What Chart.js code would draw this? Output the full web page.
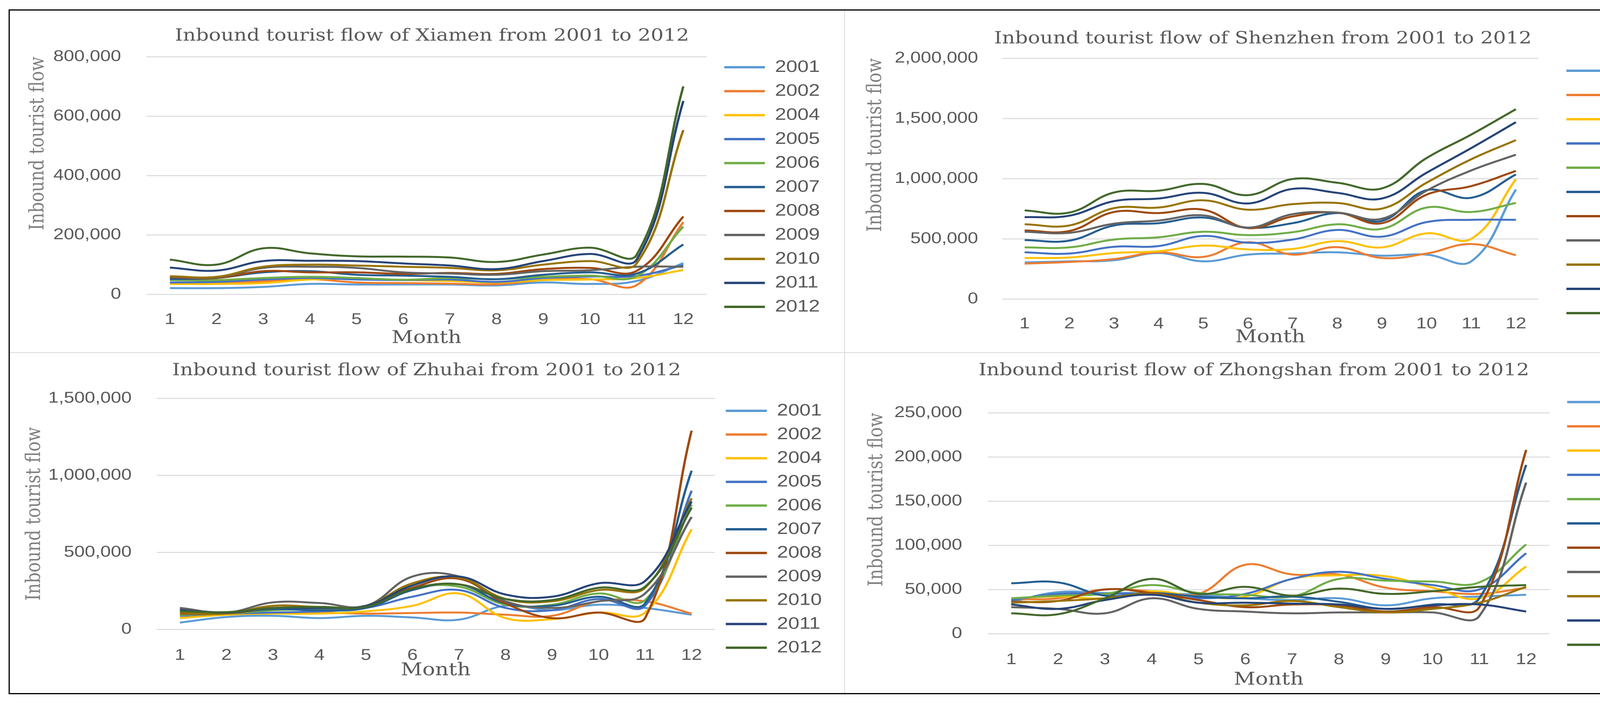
<!DOCTYPE html>
<html>
<head>
<meta charset="utf-8">
<script src="https://cdn.jsdelivr.net/npm/chart.js@4.4.1/dist/chart.umd.min.js"></script>
<style>
  html, body { margin: 0; padding: 0; background: #fff; }
  body { width: 4331px; height: 1801px; position: relative; overflow: hidden; }
  #frame { position: absolute; left: 22px; top: 24px; width: 4283px; height: 1752px; border: 3px solid #000; box-sizing: border-box; }
  .vdiv { position: absolute; left: 2161px; top: 27px; width: 2px; height: 1746px; background: #d9d9d9; }
  .hdiv { position: absolute; left: 25px; top: 901px; width: 4277px; height: 2px; background: #d9d9d9; }
  .panel { position: absolute; transform-origin: 0 0; }
</style>
</head>
<body>
<div id="frame"></div>
<div class="vdiv"></div>
<div class="hdiv"></div>
<div class="panel" id="p1"><canvas id="c1"></canvas></div>
<div class="panel" id="p2"><canvas id="c2"></canvas></div>
<div class="panel" id="p3"><canvas id="c3"></canvas></div>
<div class="panel" id="p4"><canvas id="c4"></canvas></div>
<script>
var months = ["1", "2", "3", "4", "5", "6", "7", "8", "9", "10", "11", "12"];
var years = ["2001", "2002", "2004", "2005", "2006", "2007", "2008", "2009", "2010", "2011", "2012"];

// one row per year, in the order of `years`
var xiamen = [
  [21000, 21000, 25000, 35000, 33000, 33000, 33000, 30000, 40000, 35000, 45000, 105000],
  [36000, 38000, 44000, 51000, 40000, 38000, 36000, 34000, 48000, 51000, 31000, 243000],
  [35000, 35000, 38000, 50000, 52000, 48000, 45000, 40000, 48000, 50000, 55000, 82000],
  [40000, 42000, 50000, 55000, 50000, 48000, 50000, 42000, 55000, 60000, 62000, 98000],
  [48000, 48000, 55000, 59000, 55000, 49000, 55000, 51000, 59000, 63000, 61000, 228000],
  [51000, 55000, 74000, 78000, 66000, 63000, 59000, 51000, 66000, 74000, 70000, 168000],
  [57000, 55000, 78000, 74000, 74000, 69000, 72000, 69000, 85000, 89000, 79000, 262000],
  [59000, 57000, 89000, 93000, 89000, 74000, 70000, 66000, 78000, 81000, 93000, 93000],
  [61000, 59000, 93000, 100000, 97000, 93000, 89000, 81000, 100000, 112000, 104000, 553000],
  [90000, 80000, 112000, 113000, 112000, 104000, 97000, 85000, 112000, 136000, 117000, 651000],
  [117000, 100000, 155000, 138000, 128000, 127000, 124000, 109000, 134000, 157000, 133000, 700000],
];

var shenzhen = [
  [304000, 313000, 322000, 382000, 313000, 369000, 378000, 388000, 360000, 369000, 313000, 910000],
  [294000, 308000, 332000, 388000, 350000, 472000, 369000, 431000, 341000, 378000, 457000, 364000],
  [341000, 345000, 382000, 397000, 444000, 412000, 416000, 481000, 429000, 546000, 500000, 994000],
  [388000, 378000, 434000, 440000, 524000, 468000, 494000, 574000, 518000, 639000, 658000, 658000],
  [429000, 429000, 494000, 513000, 559000, 531000, 555000, 621000, 583000, 760000, 723000, 798000],
  [490000, 485000, 611000, 630000, 677000, 593000, 630000, 714000, 649000, 904000, 841000, 1035000],
  [570000, 565000, 723000, 714000, 742000, 589000, 686000, 718000, 630000, 867000, 938000, 1064000],
  [559000, 550000, 626000, 652000, 695000, 593000, 705000, 718000, 667000, 900000, 1068000, 1199000],
  [621000, 611000, 755000, 760000, 820000, 742000, 788000, 798000, 751000, 966000, 1161000, 1320000],
  [680000, 692000, 813000, 835000, 882000, 794000, 915000, 882000, 835000, 1049000, 1254000, 1469000],
  [736000, 718000, 885000, 900000, 956000, 863000, 997000, 966000, 919000, 1171000, 1366000, 1577000],
];

var zhuhai = [
  [44000, 80000, 88000, 73000, 88000, 77000, 63000, 153000, 124000, 160000, 139000, 95000],
  [88000, 95000, 109000, 109000, 102000, 106000, 109000, 95000, 88000, 182000, 182000, 102000],
  [73000, 95000, 102000, 102000, 117000, 153000, 233000, 73000, 66000, 109000, 109000, 650000],
  [88000, 102000, 109000, 117000, 139000, 212000, 255000, 139000, 124000, 197000, 153000, 900000],
  [95000, 102000, 124000, 131000, 139000, 263000, 277000, 160000, 160000, 233000, 190000, 810000],
  [131000, 109000, 131000, 124000, 139000, 255000, 292000, 168000, 153000, 212000, 168000, 1030000],
  [102000, 102000, 139000, 139000, 153000, 270000, 328000, 168000, 73000, 109000, 73000, 1290000],
  [139000, 109000, 175000, 171000, 153000, 343000, 343000, 182000, 139000, 182000, 233000, 730000],
  [109000, 102000, 153000, 146000, 153000, 299000, 336000, 197000, 182000, 255000, 270000, 850000],
  [124000, 109000, 139000, 139000, 153000, 285000, 343000, 226000, 212000, 299000, 314000, 830000],
  [117000, 112000, 139000, 146000, 146000, 263000, 292000, 197000, 190000, 270000, 277000, 790000],
];

var zhongshan = [
  [36000, 47000, 46000, 46000, 44000, 40000, 38000, 40000, 32000, 40000, 42000, 44000],
  [39000, 40000, 50000, 48000, 45000, 78000, 67000, 67000, 52000, 48000, 45000, 52000],
  [40000, 42000, 40000, 48000, 42000, 42000, 62000, 66000, 65000, 52000, 40000, 76000],
  [38000, 45000, 45000, 45000, 40000, 45000, 62000, 70000, 62000, 55000, 50000, 91000],
  [40000, 43000, 45000, 55000, 46000, 44000, 42000, 62000, 60000, 59000, 58000, 101000],
  [57000, 58000, 43000, 46000, 42000, 40000, 42000, 36000, 28000, 33000, 40000, 191000],
  [36000, 37000, 50000, 46000, 38000, 30000, 33000, 32000, 25000, 30000, 30000, 208000],
  [30000, 28000, 23000, 40000, 28000, 25000, 23000, 24000, 24000, 24000, 20000, 171000],
  [35000, 37000, 40000, 45000, 35000, 32000, 37000, 30000, 24000, 28000, 35000, 53000],
  [33000, 28000, 38000, 44000, 35000, 35000, 34000, 33000, 28000, 32000, 33000, 25000],
  [23000, 22000, 40000, 62000, 45000, 53000, 43000, 51000, 45000, 48000, 53000, 55000],
];

var seriesColors = ["#5B9BD5", "#ED7D31", "#FFC000", "#4472C4", "#70AD47", "#255E91",
                    "#9E480E", "#636363", "#997300", "#264478", "#43682B"];

// the source figure is stretched sideways, so each canvas is drawn narrow and scaled in x
var S = 1.2;
var SERIF = '"DejaVu Serif", serif';
var SANS = '"Liberation Sans", Arial, sans-serif';
var TITLE_SIZE = 43, YTITLE_SIZE = 43, MONTH_SIZE = 45, TICK_SIZE = 40, LEGEND_SIZE = 43;

// page positions (px) of each panel
var layouts = {
  p1: { left: 25, top: 27, width: 2136, height: 873, plot: [375, 145, 1809, 753], yTickRight: 310, yTitleX: 98, yTitleAlign: "end",
        titleX: 1106, titleY: 93, xTickY: 810, monthY: 866, legendBoxL: 1854, legendTextL: 1984, legendY0: 172, legendStep: 61.3 },
  p2: { left: 2165, top: 27, width: 2137, height: 873, plot: [2566, 149, 3938, 765], yTickRight: 2504, yTitleX: 2242, yTitleAlign: "end",
        titleX: 3233, titleY: 100, xTickY: 821, monthY: 864, legendBoxL: 4010, legendTextL: 4140, legendY0: 181, legendStep: 62 },
  p3: { left: 25, top: 905, width: 2136, height: 868, plot: [401, 1019, 1830, 1610], yTickRight: 337, yTitleX: 89, yTitleAlign: "center",
        titleX: 1092, titleY: 949, xTickY: 1669, monthY: 1716, legendBoxL: 1858, legendTextL: 1989, legendY0: 1051, legendStep: 60.6 },
  p4: { left: 2165, top: 905, width: 2137, height: 868, plot: [2529, 1056, 3967, 1621], yTickRight: 2463, yTitleX: 2245, yTitleAlign: "end",
        titleX: 3210, titleY: 949, xTickY: 1680, monthY: 1740, legendBoxL: 4012, legendTextL: 4141, legendY0: 1028, legendStep: 62.1 },
};

function legendTextWidth() {
  var c = document.createElement("canvas").getContext("2d");
  c.font = LEGEND_SIZE + "px " + SANS;
  return Math.max.apply(null, years.map(function (y) { return c.measureText(y).width; }));
}
var textW = legendTextWidth();

function drawPanel(panelId, canvasId, city, values, yMax, yStep) {
  var box = layouts[panelId];
  var wN = Math.round(box.width / S);
  var toN = function (x) { return (x - box.left) / S; };
  var plotL = toN(box.plot[0]), plotR = toN(box.plot[2]);
  var plotT = box.plot[1] - box.top, plotB = box.plot[3] - box.top;

  var legPad = box.legendStep - LEGEND_SIZE;
  var legBox = (box.legendTextL - box.legendBoxL) / S - LEGEND_SIZE / 2;
  var legGap = (box.legendBoxL - box.plot[2]) / S - legPad;
  var legW = legPad + legBox + LEGEND_SIZE / 2 + textW + 10;
  var padR = wN - plotR - legGap - legW;
  var padL = 2 * toN(box.titleX) - wN + padR;
  var legShift = 2 * (box.legendY0 + 5 * box.legendStep - box.top - box.height / 2);
  var titleTop = box.titleY - box.top - TITLE_SIZE * 0.6;

  var panel = document.getElementById(panelId);
  panel.style.left = box.left + "px";
  panel.style.top = box.top + "px";
  panel.style.transform = "scaleX(" + (box.width / wN) + ")";
  var canvas = document.getElementById(canvasId);
  canvas.width = wN;
  canvas.height = box.height;

  new Chart(canvas.getContext("2d"), {
    type: "line",
    data: {
      labels: months,
      datasets: years.map(function (yr, i) {
        return {
          label: yr,
          data: values[i],
          borderColor: seriesColors[i],
          backgroundColor: seriesColors[i],
          borderWidth: 5,
          pointRadius: 0,
          tension: 0.4,
          fill: false,
          order: years.length - i,
        };
      }),
    },
    options: {
      responsive: false,
      animation: false,
      devicePixelRatio: 2,
      events: [],
      layout: { padding: { left: padL, right: padR, top: 0, bottom: 0 } },
      plugins: {
        tooltip: { enabled: false },
        title: {
          display: true,
          text: "Inbound tourist flow of " + city + " from 2001 to 2012",
          color: "#595959",
          font: { family: SERIF, size: TITLE_SIZE, weight: "normal", lineHeight: 1.2 },
          padding: { top: titleTop, bottom: plotT - TITLE_SIZE * 1.2 - titleTop },
        },
        legend: {
          position: "right",
          title: {
            display: legShift > 1,
            text: "",
            font: { size: 1, lineHeight: 1 },
            padding: { top: Math.max(legShift - 1, 0), bottom: 0 },
          },
          labels: {
            color: "#595959",
            font: { family: SANS, size: LEGEND_SIZE },
            boxWidth: legBox,
            boxHeight: 6,
            padding: legPad,
            sort: function (a, b) { return a.datasetIndex - b.datasetIndex; },
            generateLabels: function (chart) {
              return Chart.defaults.plugins.legend.labels.generateLabels(chart).map(function (l) {
                l.lineWidth = 0;
                return l;
              });
            },
          },
        },
      },
      scales: {
        x: {
          type: "category",
          offset: true,
          grid: { display: false },
          border: { display: false },
          ticks: {
            color: "#595959",
            font: { family: SANS, size: TICK_SIZE },
            padding: box.xTickY - box.plot[3] - TICK_SIZE * 0.6,
            maxRotation: 0,
            autoSkip: false,
          },
          title: {
            display: true,
            text: "Month",
            color: "#595959",
            font: { family: SERIF, size: MONTH_SIZE, lineHeight: 1.2 },
            padding: { top: 0, bottom: box.top + box.height - box.monthY - MONTH_SIZE * 0.6 },
          },
          afterFit: function (scale) { scale.height = box.height - plotB; },
        },
        y: {
          min: 0,
          max: yMax,
          grid: { color: "#d9d9d9", lineWidth: 2.5, drawTicks: false },
          border: { display: false },
          ticks: {
            stepSize: yStep,
            color: "#595959",
            font: { family: SANS, size: TICK_SIZE },
            padding: plotL - toN(box.yTickRight),
            callback: function (v) { return v.toLocaleString("en-US"); },
          },
          title: {
            display: true,
            text: "Inbound tourist flow",
            align: box.yTitleAlign,
            color: "#7f7f7f",
            font: { family: SERIF, size: YTITLE_SIZE, lineHeight: 1.2 },
            padding: { top: toN(box.yTitleX) - padL - YTITLE_SIZE * 0.6, bottom: 0 },
          },
          afterFit: function (scale) { scale.width = plotL - padL; },
        },
        gap: {
          type: "linear",
          position: "right",
          grid: { display: false },
          border: { display: false },
          ticks: { display: false },
          afterFit: function (scale) { scale.width = Math.max(legGap, 0); },
        },
      },
    },
  });
}

drawPanel("p1", "c1", "Xiamen", xiamen, 800000, 200000);
drawPanel("p2", "c2", "Shenzhen", shenzhen, 2000000, 500000);
drawPanel("p3", "c3", "Zhuhai", zhuhai, 1500000, 500000);
drawPanel("p4", "c4", "Zhongshan", zhongshan, 250000, 50000);
</script>
</body>
</html>
